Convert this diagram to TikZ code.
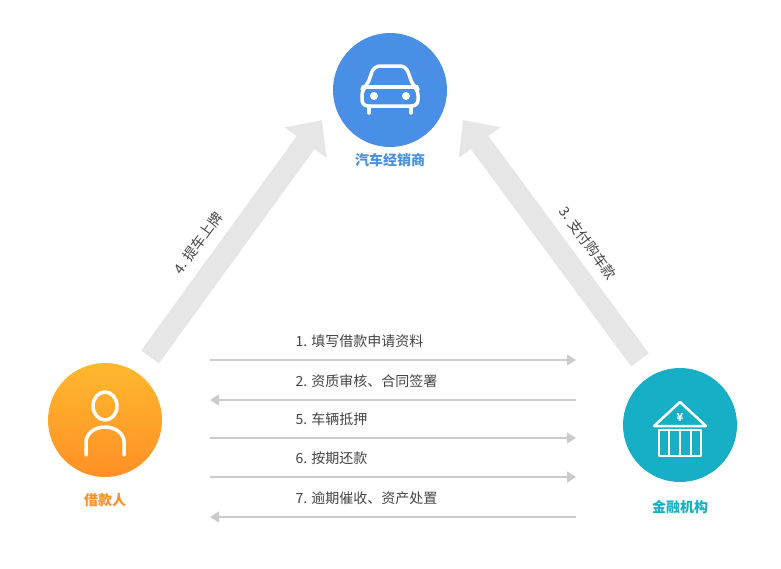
\documentclass[tikz,border=0pt]{standalone}
\usepackage{fontspec}
\setmainfont{Noto Sans CJK SC}
\usetikzlibrary{arrows.meta}
\definecolor{carblue}{HTML}{4A8FE6}
\definecolor{bankteal}{HTML}{17AFC6}
\definecolor{orgtop}{HTML}{FFB82E}
\definecolor{orgbot}{HTML}{FF9026}
\definecolor{bigarr}{HTML}{E6E6E6}
\definecolor{smallarr}{HTML}{CBCBCB}
\definecolor{txtgray}{HTML}{444444}
\tikzset{
  party/.style={circle,minimum size=114pt,inner sep=0pt},
  plabel/.style={font=\bfseries\fontsize{14}{16}\selectfont},
  flowtxt/.style={anchor=west,text=txtgray,font=\fontsize{14}{16}\selectfont},
  flow/.style={draw=smallarr,line width=1.5pt,-{Triangle[length=9pt,width=11pt]}},
  bigflow/.style={draw=bigarr,line width=22pt,-{Triangle[length=28pt,width=50pt]}},
  icon/.style={draw=white,line width=3.5pt,line cap=round,line join=round}
}
\begin{document}
\begin{tikzpicture}[x=1pt,y=-1pt]
\useasboundingbox (0,0) rectangle (781,568);
% parties
\node[party,fill=carblue] (dealer) at (390,90) {};
\node[party,top color=orgtop,bottom color=orgbot] (borrower) at (105,420) {};
\node[party,fill=bankteal] (bank) at (680,425) {};
\node[plabel,text=carblue] (dealerlbl) at (390,160) {汽车经销商};
\node[plabel,text=orgbot] (borrowerlbl) at (105,500) {借款人};
\node[plabel,text=bankteal] (banklbl) at (680,507) {金融机构};
% car icon
\draw[icon,rounded corners=6pt] (367,86) -- (374,66) -- (406,66) -- (413,86) -- (418,89) -- (418,106) -- (362,106) -- (362,89) -- cycle;
\draw[icon] (363,87) -- (417,87);
\fill[white] (374,96) circle (4pt) (406,96) circle (4pt);
\draw[icon] (369,106) -- (369,113) (411,106) -- (411,113);
% person icon
\draw[icon] (105,406) ellipse (12pt and 14pt);
\draw[icon] (86,455) -- (86,442) arc[start angle=180,end angle=0,x radius=19pt,y radius=15pt] -- (124,455);
% bank icon
\draw[icon,line width=2.5pt] (654,426) -- (680,402) -- (706,426) -- cycle;
\draw[icon,line width=2.5pt] (659,430) rectangle (701,456);
\draw[icon,line width=2.5pt] (669,430) -- (669,456) (680,430) -- (680,456) (691,430) -- (691,456);
\node[text=white,font=\bfseries\fontsize{11}{11}\selectfont] (yen) at (680,417) {¥};
% big arrows
\coordinate (lfrom) at (150,357);
\coordinate (lto) at (322,120);
\coordinate (rfrom) at (640,360);
\coordinate (rto) at (463,120);
\draw[bigflow] (lfrom) -- (lto);
\draw[bigflow] (rfrom) -- (rto);
\node[text=txtgray,rotate=54,font=\fontsize{14}{16}\selectfont] (pickup) at (198,243) {4. 提车上牌};
\node[text=txtgray,rotate=-54,font=\fontsize{14}{16}\selectfont] (pay) at (588,243) {3. 支付购车款};
% small flows
\foreach \y/\dir/\t in {360/r/1. 填写借款申请资料,400/l/2. 资质审核、合同签署,438/r/5. 车辆抵押,477/r/6. 按期还款,517/l/7. 逾期催收、资产处置}{
  \coordinate (fl\y) at (210,\y);
  \coordinate (fr\y) at (576,\y);
  \if\dir r \draw[flow] (fl\y) -- (fr\y); \else \draw[flow] (fr\y) -- (fl\y); \fi
  \node[flowtxt] (ft\y) at (292,\y-19) {\t};
}
\end{tikzpicture}
\end{document}
